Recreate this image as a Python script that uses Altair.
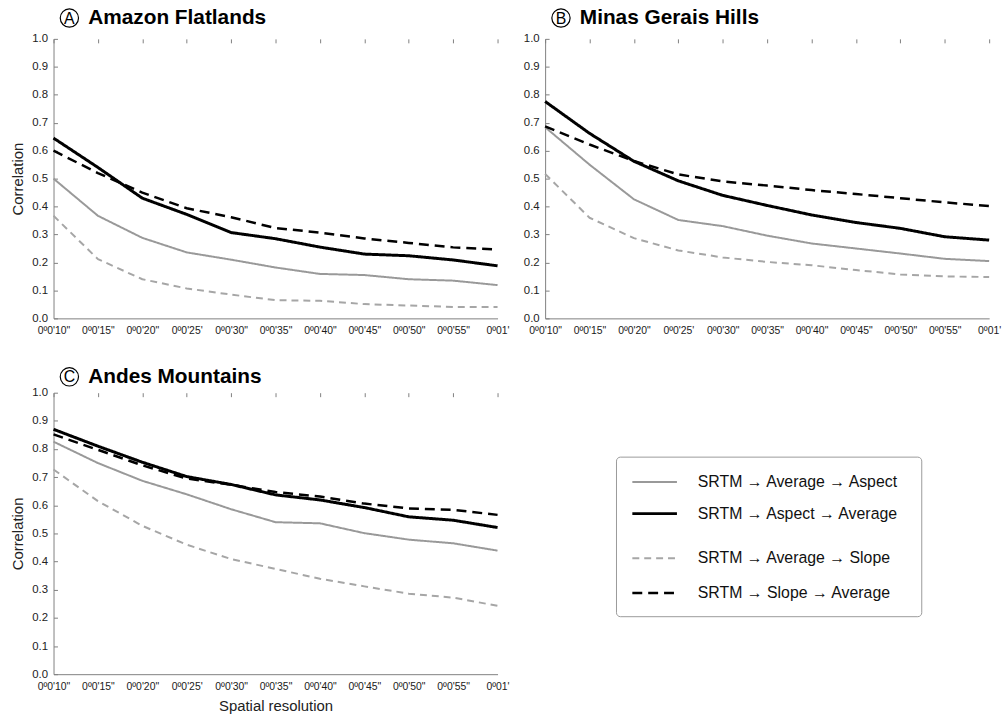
import altair as alt
import pandas as pd

# Spatial resolutions on the x axis
resolutions = ["0º0'10\"", "0º0'15\"", "0º0'20\"", "0º0'25'", "0º0'30\"", "0º0'35\"",
               "0º0'40\"", "0º0'45\"", "0º0'50\"", "0º0'55\"", "0º01'"]

# Processing chains (legend order)
series_names = ["SRTM → Average → Aspect", "SRTM  → Aspect → Average",
                "SRTM → Average → Slope", "SRTM  → Slope → Average"]

# Correlation values per region, one list per processing chain
amazon_avg_aspect = [0.500, 0.367, 0.288, 0.236, 0.210, 0.182, 0.159, 0.155, 0.140, 0.135, 0.119]
amazon_aspect_avg = [0.645, 0.540, 0.430, 0.372, 0.307, 0.285, 0.255, 0.230, 0.224, 0.209, 0.188]
amazon_avg_slope = [0.367, 0.212, 0.140, 0.107, 0.085, 0.065, 0.063, 0.051, 0.046, 0.041, 0.041]
amazon_slope_avg = [0.600, 0.520, 0.450, 0.394, 0.362, 0.323, 0.307, 0.286, 0.270, 0.254, 0.246]

minas_avg_aspect = [0.684, 0.550, 0.426, 0.352, 0.330, 0.296, 0.268, 0.250, 0.232, 0.213, 0.205]
minas_aspect_avg = [0.776, 0.662, 0.562, 0.492, 0.440, 0.404, 0.370, 0.343, 0.322, 0.292, 0.280]
minas_avg_slope = [0.517, 0.360, 0.287, 0.243, 0.218, 0.202, 0.190, 0.173, 0.157, 0.150, 0.148]
minas_slope_avg = [0.687, 0.622, 0.563, 0.515, 0.490, 0.475, 0.459, 0.445, 0.430, 0.415, 0.402]

andes_avg_aspect = [0.826, 0.750, 0.687, 0.639, 0.586, 0.540, 0.536, 0.501, 0.478, 0.465, 0.439]
andes_aspect_avg = [0.870, 0.810, 0.753, 0.702, 0.674, 0.637, 0.619, 0.592, 0.559, 0.547, 0.521]
andes_avg_slope = [0.727, 0.615, 0.527, 0.460, 0.409, 0.374, 0.339, 0.312, 0.286, 0.272, 0.243]
andes_slope_avg = [0.852, 0.797, 0.742, 0.695, 0.673, 0.647, 0.631, 0.606, 0.589, 0.584, 0.566]

regions = ["Amazon Flatlands", "Minas Gerais Hills", "Andes Mountains"]
region_letters = ["A", "B", "C"]
region_values = [
    [amazon_avg_aspect, amazon_aspect_avg, amazon_avg_slope, amazon_slope_avg],
    [minas_avg_aspect, minas_aspect_avg, minas_avg_slope, minas_slope_avg],
    [andes_avg_aspect, andes_aspect_avg, andes_avg_slope, andes_slope_avg],
]

FONT = "Liberation Sans"
GRAY_AXIS = "#808080"

# Line style of each chain
line_colors = ["#999999", "#000000", "#a6a6a6", "#000000"]
line_dashes = [[1, 0], [1, 0], [7, 5], [10, 6]]
line_widths = [2.0, 3.0, 2.0, 2.5]

# Drawing order: gray chains first, black chains on top
draw_order = [2, 0, 3, 1]


def region_frame(values):
    rows = []
    for k in draw_order:
        for res, v in zip(resolutions, values[k]):
            rows.append({"resolution": res, "correlation": v,
                         "series": series_names[k], "lw": line_widths[k]})
    return pd.DataFrame(rows)


color_scale = alt.Scale(domain=series_names, range=line_colors)
dash_scale = alt.Scale(domain=series_names, range=line_dashes)


def panel(values, letter, name, show_y_title, show_x_title, title_gap, height):
    x_axis = alt.Axis(
        title="Spatial resolution" if show_x_title else None,
        labelAngle=0, labelFontSize=10.5, labelFont=FONT, labelColor="#1a1a1a",
        labelPadding=7, ticks=False, grid=True, gridDash=[4, 3000],
        gridColor=GRAY_AXIS, gridWidth=1, domainColor=GRAY_AXIS,
        titleFont=FONT, titleFontSize=15, titleFontWeight="normal",
        titleColor="#222222", titlePadding=7, labelOverlap=False,
    )
    y_axis = alt.Axis(
        title="Correlation" if show_y_title else None,
        values=[i / 10 for i in range(11)], format=".1f",
        labelFontSize=11.5, labelFont=FONT, labelColor="#222222", labelPadding=6,
        ticks=False, grid=True, gridDash=[4, 3000], gridColor=GRAY_AXIS,
        gridWidth=1, domainColor=GRAY_AXIS,
        titleFont=FONT, titleFontSize=15, titleFontWeight="normal",
        titleColor="#222222", titlePadding=6,
    )
    lines = alt.Chart(region_frame(values)).mark_line(strokeCap="butt", strokeJoin="round").encode(
        x=alt.X("resolution:N", sort=resolutions, axis=x_axis,
                scale=alt.Scale(type="point", padding=0)),
        y=alt.Y("correlation:Q", axis=y_axis, scale=alt.Scale(domain=[0, 1], nice=False)),
        color=alt.Color("series:N", scale=color_scale, legend=None),
        strokeDash=alt.StrokeDash("series:N", scale=dash_scale, legend=None),
        strokeWidth=alt.StrokeWidth("lw:Q", scale=None, legend=None),
        detail="series:N",
    )
    badge = pd.DataFrame({"letter": [letter], "name": [name]})
    ring = alt.Chart(badge).mark_point(
        shape="circle", filled=False, size=340, stroke="black", strokeWidth=1.2, opacity=1
    ).encode(x=alt.value(16), y=alt.value(-title_gap - 6))
    mark_letter = alt.Chart(badge).mark_text(
        font=FONT, fontSize=16, color="black", align="center", baseline="middle"
    ).encode(x=alt.value(16), y=alt.value(-title_gap - 5.5), text="letter:N")
    heading = alt.Chart(badge).mark_text(
        font=FONT, fontSize=21, fontWeight="bold", color="black",
        align="left", baseline="alphabetic"
    ).encode(x=alt.value(35), y=alt.value(-title_gap), text="name:N")
    return alt.layer(lines, ring, mark_letter, heading).properties(width=448, height=height)


panel_a = panel(region_values[0], region_letters[0], regions[0], True, False, 15, 282)
panel_b = panel(region_values[1], region_letters[1], regions[1], False, False, 15, 282)
panel_c = panel(region_values[2], region_letters[2], regions[2], True, True, 10, 284)

# Legend panel: framed box with a line sample and label for each chain
legend_rows = [90, 122, 167, 202]
legend_df = pd.DataFrame({"series": series_names, "row_y": legend_rows, "lw": line_widths})
box = alt.Chart(pd.DataFrame({"k": [0]})).mark_rect(
    fill="white", stroke="#9a9a9a", strokeWidth=1, cornerRadius=4
).encode(x=alt.value(72), x2=alt.value(380), y=alt.value(65), y2=alt.value(226))
samples = alt.Chart(legend_df).mark_rule(strokeCap="butt").encode(
    x=alt.value(88), x2=alt.value(133),
    y=alt.Y("row_y:Q", scale=None, axis=None),
    color=alt.Color("series:N", scale=color_scale, legend=None),
    strokeDash=alt.StrokeDash("series:N", scale=dash_scale, legend=None),
    strokeWidth=alt.StrokeWidth("lw:Q", scale=None, legend=None),
)
labels = alt.Chart(legend_df).mark_text(
    font=FONT, fontSize=16, color="#111111", align="left", baseline="middle"
).encode(x=alt.value(154), y=alt.Y("row_y:Q", scale=None, axis=None), text="series:N")
legend_panel = alt.layer(box, samples, labels).properties(width=447, height=284)

chart = alt.concat(
    panel_a, panel_b, panel_c, legend_panel,
    columns=2, spacing={"row": 75, "column": 48}, bounds="flush",
).configure_view(stroke=None).properties(
    padding={"left": 11, "top": 3, "right": 5, "bottom": 2},
    background="white",
)

chart.save("out.html", embed_options={"renderer": "svg", "actions": False})
